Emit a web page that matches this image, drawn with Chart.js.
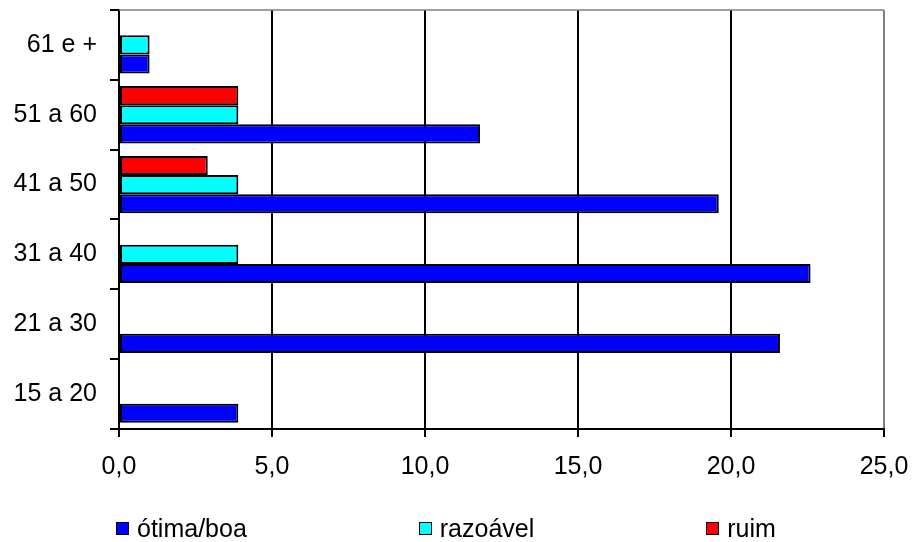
<!DOCTYPE html>
<html>
<head>
<meta charset="utf-8">
<script src="https://cdn.jsdelivr.net/npm/chart.js@4.4.1/dist/chart.umd.min.js"></script>
<style>
    body { margin: 0; background: #fff; }
    #wrap { position: relative; width: 912px; height: 542px; }
    #legend { position: absolute; left: 116px; top: 514px; display: flex; align-items: center; gap: 172px;
              font-family: 'Liberation Sans', Arial, sans-serif; font-size: 25px; color: #000; }
    .item { display: flex; align-items: center; }
    .box { width: 11px; height: 11px; border: 1.5px solid #000; margin-right: 8px; }
</style>
</head>
<body>
<div id="wrap">
    <canvas id="chart" width="912" height="542"></canvas>
    <div id="legend"></div>
</div>
<script>
// faixas etarias (de baixo para cima)
const categories = ['15 a 20', '21 a 30', '31 a 40', '41 a 50', '51 a 60', '61 e +'];
const otimaBoa = [3.9, 21.6, 22.6, 19.6, 11.8, 1.0];
const razoavel = [null, null, 3.9, 3.9, 3.9, 1.0];
const ruim = [null, null, null, 2.9, 3.9, null];
const xTicks = [0, 5, 10, 15, 20, 25];

const seriesNames = ['ótima/boa', 'razoável', 'ruim'];
const seriesColors = ['#0000FF', '#00FFFF', '#FF0000'];

const FONT = "'Liberation Sans', Arial, sans-serif";

// top border of the plot area (grey, like the right one)
const topBorder = {
    id: 'topBorder',
    afterDraw(chart) {
        const a = chart.chartArea;
        const ctx = chart.ctx;
        ctx.save();
        ctx.strokeStyle = '#808080';
        ctx.lineWidth = 1.5;
        ctx.beginPath();
        ctx.moveTo(a.left, a.top);
        ctx.lineTo(a.right, a.top);
        ctx.stroke();
        ctx.restore();
    }
};

// datasets in reverse so that "ótima/boa" sits at the bottom of each group
const datasets = [
    { label: seriesNames[2], data: ruim, backgroundColor: seriesColors[2] },
    { label: seriesNames[1], data: razoavel, backgroundColor: seriesColors[1] },
    { label: seriesNames[0], data: otimaBoa, backgroundColor: seriesColors[0] }
].map(d => Object.assign(d, { borderColor: '#000', borderWidth: 2, borderSkipped: false }));

new Chart(document.getElementById('chart'), {
    type: 'bar',
    data: { labels: categories, datasets: datasets },
    plugins: [topBorder],
    options: {
        indexAxis: 'y',
        responsive: false,
        animation: false,
        categoryPercentage: 0.82,
        barPercentage: 1,
        layout: { padding: { top: 10, right: 28, bottom: 45, left: 0 } },
        plugins: { legend: { display: false }, tooltip: { enabled: false } },
        scales: {
            x: {
                min: 0,
                max: 25,
                afterBuildTicks: scale => { scale.ticks = xTicks.map(v => ({ value: v })); },
                afterFit: scale => { scale.paddingLeft = 0; scale.paddingRight = 0; },
                ticks: {
                    color: '#000',
                    padding: 15,
                    maxRotation: 0,
                    font: { family: FONT, size: 25 },
                    callback: v => v.toFixed(1).replace('.', ',')
                },
                grid: {
                    color: ctx => ctx.tick && ctx.tick.value === 25 ? '#808080' : '#000',
                    tickColor: '#000',
                    tickLength: 8,
                    lineWidth: 2
                },
                border: { color: '#000', width: 2 }
            },
            y: {
                reverse: true,
                afterFit: scale => {
                    scale.width = 119;
                    scale.paddingTop = 0;
                    scale.paddingBottom = 0;
                },
                ticks: {
                    color: '#000',
                    padding: 13,
                    font: { family: FONT, size: 25 }
                },
                grid: {
                    drawOnChartArea: false,
                    color: '#000',
                    tickLength: 9,
                    lineWidth: 2,
                    offset: true
                },
                border: { color: '#000', width: 2 }
            }
        }
    }
});

// legend
$legend = document.getElementById('legend');
seriesNames.forEach((name, i) => {
    $legend.insertAdjacentHTML('beforeend',
        '<div class="item"><div class="box" style="background:' + seriesColors[i] + '"></div><span>' + name + '</span></div>');
});
</script>
</body>
</html>
